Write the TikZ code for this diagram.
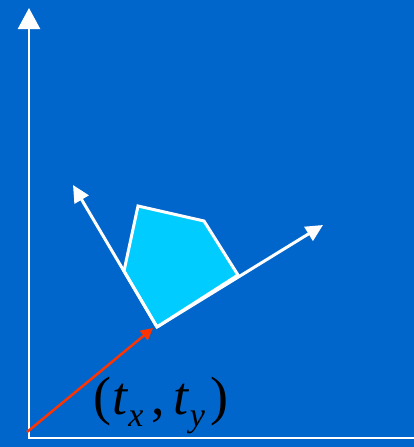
\documentclass[tikz,border=0pt]{standalone}
\usepackage{fontspec}
\setmainfont{Liberation Serif}
\usetikzlibrary{arrows.meta}
\definecolor{bg}{RGB}{0,102,204}
\definecolor{poly}{RGB}{0,204,255}
\definecolor{redarrow}{RGB}{255,51,0}
\newcommand{\subsc}[1]{\raisebox{-12pt}{\fontsize{34}{34}\selectfont\textit{#1}}}
\begin{document}
\begin{tikzpicture}[x=1pt,y=-1pt,
  axis/.style={white, line width=2.5pt},
  localaxis/.style={white, line width=3pt, -{Triangle[width=16pt,length=17pt]}},
  polystyle/.style={fill=poly, draw=white, line width=3pt, line join=miter}]
\fill[bg] (0,0) rectangle (414,447);
\useasboundingbox (0,0) rectangle (414,447);
% world axes
\coordinate (O) at (29,438);
\coordinate (Ytop) at (29,8);
\coordinate (Xend) at (416,438);
\draw[axis, {Triangle[width=22pt,length=21pt]}-] (Ytop) -- (O) -- (Xend);
% local frame
\coordinate (L) at (157,327);
\coordinate (LX) at (323,225);
\coordinate (LY) at (73,185);
\coordinate (P1) at (238,275);
\coordinate (P2) at (204,221);
\coordinate (P3) at (138,206);
\coordinate (P4) at (124,271);
\filldraw[polystyle] (L) -- (P1) -- (P2) -- (P3) -- (P4) -- cycle;
\draw[localaxis] (L) -- (LX);
\draw[localaxis] (L) -- (LY);
% translation vector
\coordinate (T0) at (27,432);
\coordinate (T1) at (153,328);
\draw[redarrow, line width=2.5pt, -{Triangle[width=12pt,length=12pt]}] (T0) -- (T1);
% label
\node[anchor=base west, inner sep=0pt, font=\fontsize{54}{54}\selectfont] (lab) at (93,414)
  {(\kern1pt\textit{t}\subsc{x}\kern8pt,\kern9pt\textit{t}\subsc{y}\kern5pt)};
\end{tikzpicture}
\end{document}
